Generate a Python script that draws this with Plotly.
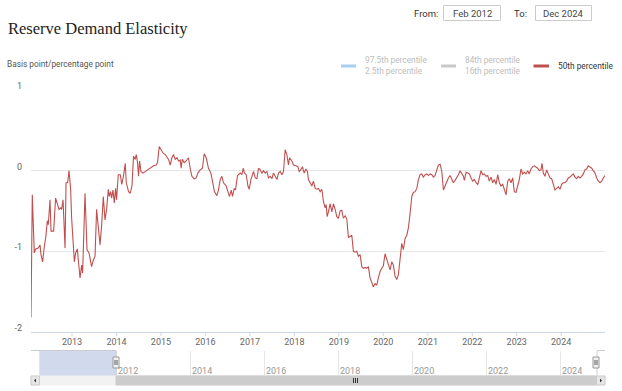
import calendar
from datetime import datetime, timedelta
import plotly.graph_objects as go

# ---------------- data ----------------
series_name = "50th percentile"
years = [
    2012.079, 2012.108, 2012.153, 2012.182, 2012.243, 2012.281, 2012.303, 2012.339, 2012.378, 2012.416,
    2012.445, 2012.467, 2012.506, 2012.528, 2012.587, 2012.631, 2012.676, 2012.708, 2012.744, 2012.766,
    2012.798, 2012.843, 2012.865, 2012.901, 2012.933, 2012.969, 2012.991, 2013.029, 2013.052, 2013.081,
    2013.119, 2013.142, 2013.180, 2013.216, 2013.238, 2013.292, 2013.337, 2013.382, 2013.440, 2013.479,
    2013.517, 2013.553, 2013.591, 2013.629, 2013.665, 2013.703, 2013.742, 2013.778, 2013.816, 2013.838,
    2013.867, 2013.890, 2013.921, 2013.951, 2013.980, 2014.002, 2014.040, 2014.085, 2014.119, 2014.153,
    2014.198, 2014.220, 2014.272, 2014.310, 2014.348, 2014.384, 2014.422, 2014.445, 2014.474, 2014.497,
    2014.519, 2014.551, 2014.596, 2014.647, 2014.699, 2014.744, 2014.798, 2014.834, 2014.894, 2014.924,
    2014.962, 2015.000, 2015.045, 2015.097, 2015.135, 2015.171, 2015.209, 2015.247, 2015.283, 2015.321,
    2015.360, 2015.396, 2015.434, 2015.456, 2015.479, 2015.524, 2015.569, 2015.620, 2015.658, 2015.697,
    2015.748, 2015.793, 2015.831, 2015.883, 2015.935, 2015.973, 2016.018, 2016.070, 2016.124, 2016.169,
    2016.204, 2016.258, 2016.294, 2016.333, 2016.371, 2016.407, 2016.467, 2016.506, 2016.542, 2016.580,
    2016.609, 2016.647, 2016.676, 2016.721, 2016.744, 2016.782, 2016.820, 2016.849, 2016.879, 2016.917,
    2016.955, 2016.984, 2017.022, 2017.058, 2017.081, 2017.119, 2017.157, 2017.193, 2017.231, 2017.270,
    2017.306, 2017.344, 2017.382, 2017.418, 2017.456, 2017.494, 2017.530, 2017.569, 2017.607, 2017.643,
    2017.681, 2017.719, 2017.755, 2017.793, 2017.831, 2017.867, 2017.890, 2017.944, 2017.980, 2018.034,
    2018.079, 2018.108, 2018.146, 2018.182, 2018.220, 2018.258, 2018.294, 2018.317, 2018.355, 2018.393,
    2018.429, 2018.467, 2018.506, 2018.542, 2018.580, 2018.618, 2018.654, 2018.692, 2018.715, 2018.737,
    2018.766, 2018.805, 2018.843, 2018.879, 2018.917, 2018.955, 2018.991, 2019.029, 2019.067, 2019.103,
    2019.142, 2019.180, 2019.216, 2019.254, 2019.292, 2019.328, 2019.366, 2019.404, 2019.440, 2019.479,
    2019.517, 2019.553, 2019.591, 2019.629, 2019.665, 2019.703, 2019.742, 2019.778, 2019.816, 2019.854,
    2019.890, 2019.928, 2019.966, 2020.002, 2020.040, 2020.079, 2020.115, 2020.153, 2020.191, 2020.227,
    2020.265, 2020.303, 2020.339, 2020.378, 2020.416, 2020.452, 2020.490, 2020.528, 2020.564, 2020.602,
    2020.640, 2020.676, 2020.715, 2020.753, 2020.789, 2020.827, 2020.865, 2020.901, 2020.939, 2020.978,
    2021.013, 2021.052, 2021.090, 2021.126, 2021.164, 2021.202, 2021.238, 2021.276, 2021.315, 2021.351,
    2021.389, 2021.427, 2021.463, 2021.501, 2021.539, 2021.575, 2021.613, 2021.652, 2021.688, 2021.726,
    2021.764, 2021.800, 2021.822, 2021.861, 2021.899, 2021.935, 2021.973, 2022.011, 2022.047, 2022.085,
    2022.124, 2022.160, 2022.198, 2022.236, 2022.272, 2022.310, 2022.348, 2022.384, 2022.422, 2022.461,
    2022.497, 2022.535, 2022.573, 2022.609, 2022.647, 2022.685, 2022.721, 2022.760, 2022.798, 2022.834,
    2022.872, 2022.910, 2022.946, 2022.984, 2023.022, 2023.058, 2023.097, 2023.135, 2023.171, 2023.209,
    2023.247, 2023.283, 2023.321, 2023.360, 2023.396, 2023.434, 2023.472, 2023.508, 2023.546, 2023.569,
    2023.598, 2023.636, 2023.674, 2023.710, 2023.748, 2023.787, 2023.822, 2023.861, 2023.899, 2023.935,
    2023.973, 2024.011, 2024.047, 2024.085, 2024.124, 2024.160, 2024.198, 2024.236, 2024.272, 2024.310,
    2024.348, 2024.384, 2024.422, 2024.461, 2024.497, 2024.535, 2024.573, 2024.609, 2024.647, 2024.685,
    2024.721, 2024.760, 2024.798, 2024.834, 2024.872, 2024.910, 2024.946, 2024.984,
]
values = [
    -1.82, -0.30, -1.02, -0.97, -0.96, -0.92, -1.04, -1.13, -0.94, -0.80,
    -0.62, -0.67, -0.36, -0.75, -0.75, -0.34, -0.42, -0.48, -0.46, -0.48,
    -0.36, -0.96, -0.15, -0.15, 0.00, -0.24, -0.59, -0.86, -1.13, -1.02,
    -0.97, -1.11, -1.33, -1.17, -1.27, -0.28, -0.98, -1.02, -1.19, -1.11,
    -1.06, -0.48, -0.69, -0.92, -0.69, -0.32, -0.61, -0.48, -0.23, -0.32,
    -0.26, -0.34, -0.24, -0.40, -0.22, -0.36, -0.05, -0.05, -0.17, -0.08,
    0.09, -0.15, -0.26, -0.28, -0.19, 0.18, 0.14, 0.20, 0.10, -0.07,
    0.12, -0.01, -0.03, -0.01, 0.01, 0.03, 0.05, 0.06, 0.07, 0.10,
    0.30, 0.26, 0.22, 0.20, 0.16, 0.14, 0.07, 0.16, 0.20, 0.14,
    0.16, 0.12, 0.13, 0.03, 0.14, 0.10, 0.12, 0.16, 0.03, -0.07,
    -0.10, -0.09, -0.03, 0.01, 0.03, 0.21, 0.16, 0.03, -0.03, -0.15,
    -0.26, -0.31, -0.24, -0.11, -0.07, -0.15, -0.19, -0.26, -0.32, -0.24,
    -0.32, -0.22, -0.24, -0.06, -0.05, -0.03, -0.05, 0.03, -0.03, -0.05,
    -0.19, -0.23, -0.11, -0.03, -0.01, -0.09, -0.10, 0.03, 0.01, -0.03,
    0.00, -0.03, -0.01, -0.09, -0.07, -0.10, -0.03, -0.07, -0.11, -0.03,
    -0.01, -0.05, -0.01, 0.26, 0.20, 0.07, 0.16, 0.12, 0.07, 0.06,
    0.05, -0.01, 0.01, 0.05, -0.03, 0.02, -0.01, -0.11, -0.15, -0.19,
    -0.13, -0.22, -0.23, -0.22, -0.26, -0.23, -0.38, -0.46, -0.42, -0.57,
    -0.51, -0.41, -0.51, -0.41, -0.48, -0.57, -0.59, -0.50, -0.49, -0.59,
    -0.56, -0.60, -0.83, -0.81, -0.80, -1.00, -1.01, -1.00, -1.06, -1.04,
    -1.19, -1.21, -1.20, -1.21, -1.19, -1.33, -1.38, -1.44, -1.40, -1.42,
    -1.33, -1.25, -1.21, -1.18, -1.03, -1.11, -1.17, -1.23, -1.13, -1.17,
    -1.31, -1.35, -1.29, -1.11, -0.90, -0.98, -0.84, -0.80, -0.71, -0.53,
    -0.32, -0.27, -0.26, -0.22, -0.11, -0.05, -0.04, -0.08, -0.05, -0.04,
    -0.06, -0.04, -0.05, -0.08, -0.06, 0.01, 0.07, 0.08, -0.01, -0.24,
    -0.19, -0.13, -0.09, -0.06, -0.10, -0.15, -0.12, -0.09, -0.05, 0.00,
    -0.04, -0.07, -0.12, -0.02, -0.03, -0.04, -0.09, -0.13, -0.11, -0.15,
    -0.17, -0.09, 0.00, -0.05, -0.04, -0.07, -0.06, -0.13, -0.08, -0.15,
    -0.11, -0.17, -0.05, -0.15, -0.19, -0.17, -0.23, -0.30, -0.13, -0.10,
    -0.15, -0.09, -0.26, -0.27, -0.19, -0.11, 0.02, -0.04, -0.02, -0.04,
    0.00, -0.04, 0.02, 0.05, 0.06, 0.05, 0.03, 0.00, 0.01, 0.09,
    -0.03, -0.07, 0.01, -0.04, -0.09, -0.10, -0.17, -0.24, -0.22, -0.20,
    -0.23, -0.17, -0.15, -0.15, -0.13, -0.09, -0.08, -0.06, -0.04, -0.08,
    -0.10, -0.07, -0.09, -0.07, -0.04, 0.01, 0.02, 0.06, 0.05, 0.03,
    0.00, -0.03, -0.09, -0.13, -0.15, -0.13, -0.09, -0.06,
]
y_ticks = [-2, -1, 0, 1]
x_tick_years = list(range(2013, 2025))
nav_tick_years = [2012, 2014, 2016, 2018, 2020, 2022, 2024]
range_from_label = "Feb 2012"
range_to_label = "Dec 2024"
legend_items = ["97.5th percentile<br>2.5th percentile", "84th percentile<br>16th percentile", "50th percentile"]
legend_colors = ["#a9cfee", "#c9c9c9", "#c0504f"]


def dec_to_date(y):
    yr = int(y)
    frac = y - yr
    ndays = 366 if calendar.isleap(yr) else 365
    return datetime(yr, 1, 1) + timedelta(days=frac * ndays)


dates = [dec_to_date(y) for y in years]

# ---------------- layout geometry (pixels) ----------------
WIDTH, HEIGHT = 622, 391
L, R, T, B = 31, 605, 90, 386          # paper box in pixels
PW, PH = R - L, B - T


def px(x):
    return (x - L) / PW


def py(y):
    return (B - y) / PH


MAIN_BOTTOM = 332
NAV_TOP, NAV_BOTTOM = 350.5, 376
SCR_TOP, SCR_BOTTOM = 376, 385

fig = go.Figure()
fig.add_trace(go.Scatter(
    x=dates, y=values, mode="lines", name=series_name,
    line=dict(color="#c0504f", width=1.1), hoverinfo="skip", showlegend=False,
))
# invisible trace to establish navigator axis
fig.add_trace(go.Scatter(x=[dates[0]], y=[0.5], xaxis="x2", yaxis="y2", mode="markers",
                         marker=dict(opacity=0), hoverinfo="skip", showlegend=False))

shapes = []
annotations = []

# Title and subtitle
annotations.append(dict(text="Reserve Demand Elasticity", x=px(6), y=py(28.5), xref="paper", yref="paper",
                        xanchor="left", yanchor="middle", showarrow=False,
                        font=dict(family="Liberation Serif", size=16.5, color="#222222")))
annotations.append(dict(text="Basis point/percentage point", x=px(5), y=py(64.5), xref="paper", yref="paper",
                        xanchor="left", yanchor="middle", showarrow=False,
                        font=dict(family="Roboto", size=8.3, color="#555555")))

# Range selector (From / To boxes)
annotations.append(dict(text="From:", x=px(440), y=py(13), xref="paper", yref="paper", xanchor="right",
                        yanchor="middle", showarrow=False, font=dict(family="Roboto", size=9.5, color="#333333")))
annotations.append(dict(text="To:", x=px(529), y=py(13), xref="paper", yref="paper", xanchor="right",
                        yanchor="middle", showarrow=False, font=dict(family="Roboto", size=9.5, color="#333333")))
for x0, x1, label in [(443.5, 500.5, range_from_label), (535.5, 591.5, range_to_label)]:
    shapes.append(dict(type="rect", xref="paper", yref="paper", x0=px(x0), x1=px(x1), y0=py(20.5), y1=py(5.5),
                       line=dict(color="#cccccc", width=1), fillcolor="#ffffff", layer="below"))
    annotations.append(dict(text=label, x=px((x0 + x1) / 2), y=py(13), xref="paper", yref="paper",
                            xanchor="center", yanchor="middle", showarrow=False,
                            font=dict(family="Roboto", size=9.5, color="#444444")))

# Legend
leg_sym = [(341, 356), (441, 456), (533.5, 549)]
leg_txt_x = [363, 462.5, 556]
leg_txt_col = ["#bdbdbd", "#bdbdbd", "#333333"]
for (x0, x1), tx, txt, col, tcol in zip(leg_sym, leg_txt_x, legend_items, legend_colors, leg_txt_col):
    shapes.append(dict(type="line", xref="paper", yref="paper", x0=px(x0), x1=px(x1), y0=py(66), y1=py(66),
                       line=dict(color=col, width=3)))
    annotations.append(dict(text=txt, x=px(tx), y=py(65.5), xref="paper", yref="paper", xanchor="left",
                            yanchor="middle", align="left", showarrow=False,
                            font=dict(family="Roboto", size=8.3, color=tcol)))

# Main x-axis tick marks (short, below the axis line)
for yr in x_tick_years:
    shapes.append(dict(type="line", xref="x", yref="paper", x0=datetime(yr, 1, 1), x1=datetime(yr, 1, 1),
                       y0=py(MAIN_BOTTOM), y1=py(MAIN_BOTTOM + 4), line=dict(color="#ccd6eb", width=1)))

# Navigator labels (on the navigator date axis)
for yr in nav_tick_years:
    annotations.append(dict(text=str(yr), x=datetime(yr, 1, 1), xref="x2", y=py(370.5), yref="paper",
                            xanchor="left", yanchor="middle", xshift=0, showarrow=False,
                            font=dict(family="Roboto", size=9, color="#999999")))

# Navigator mask / outline / handles
shapes.append(dict(type="rect", xref="paper", yref="paper", x0=px(39.3), x1=px(116), y0=py(NAV_BOTTOM),
                   y1=py(NAV_TOP), fillcolor="rgba(102,133,194,0.3)", line=dict(width=0), layer="below"))
path = "M {a},{t} L {b},{t} L {b},{bt} L {c},{bt} L {c},{t} L {d},{t}".format(
    a=px(31), b=px(116), c=px(597), d=px(605), t=py(NAV_TOP), bt=py(NAV_BOTTOM))
shapes.append(dict(type="path", xref="paper", yref="paper", path=path, line=dict(color="#cccccc", width=1)))

# Scrollbar
shapes.append(dict(type="rect", xref="paper", yref="paper", x0=px(31), x1=px(605), y0=py(SCR_BOTTOM),
                   y1=py(SCR_TOP), fillcolor="#f2f2f2", line=dict(color="#f2f2f2", width=1)))
shapes.append(dict(type="rect", xref="paper", yref="paper", x0=px(116), x1=px(595.5), y0=py(SCR_BOTTOM),
                   y1=py(SCR_TOP), fillcolor="#cccccc", line=dict(color="#cccccc", width=1)))
for bx0, bx1 in [(31, 39.5), (596.5, 605)]:
    shapes.append(dict(type="rect", xref="paper", yref="paper", x0=px(bx0), x1=px(bx1), y0=py(SCR_BOTTOM),
                       y1=py(SCR_TOP), fillcolor="#e6e6e6", line=dict(color="#cccccc", width=1)))
# arrows
shapes.append(dict(type="path", xref="paper", yref="paper",
                   path="M {x1},{y0} L {x0},{ym} L {x1},{y1} Z".format(x0=px(34), x1=px(36), y0=py(378.5),
                                                                      y1=py(382.5), ym=py(380.5)),
                   fillcolor="#333333", line=dict(width=0)))
shapes.append(dict(type="path", xref="paper", yref="paper",
                   path="M {x0},{y0} L {x1},{ym} L {x0},{y1} Z".format(x0=px(600), x1=px(602), y0=py(378.5),
                                                                      y1=py(382.5), ym=py(380.5)),
                   fillcolor="#333333", line=dict(width=0)))
# grip
for gx in (353.5, 355.5, 357.5):
    shapes.append(dict(type="line", xref="paper", yref="paper", x0=px(gx), x1=px(gx), y0=py(378), y1=py(383),
                       line=dict(color="#333333", width=1)))
# handles
for hx in (116, 596):
    shapes.append(dict(type="rect", xref="paper", yref="paper", x0=px(hx - 3), x1=px(hx + 3), y0=py(368),
                       y1=py(357), fillcolor="#f2f2f2", line=dict(color="#999999", width=1)))
    for gx in (hx - 1, hx + 1):
        shapes.append(dict(type="line", xref="paper", yref="paper", x0=px(gx), x1=px(gx), y0=py(365),
                           y1=py(360), line=dict(color="#333333", width=0.8)))

main_dom = [py(MAIN_BOTTOM), 1]
nav_dom = [py(NAV_BOTTOM), py(NAV_TOP)]

fig.update_layout(
    template="none",
    width=WIDTH, height=HEIGHT,
    margin=dict(l=L, r=WIDTH - R, t=T, b=HEIGHT - B, pad=0, autoexpand=False),
    paper_bgcolor="#ffffff", plot_bgcolor="#ffffff",
    font=dict(family="Roboto", color="#666666"),
    showlegend=False, hovermode=False,
    xaxis=dict(
        type="date", range=[dates[0], dates[-1]], domain=[0, 1], automargin=False,
        tickvals=[datetime(y, 1, 1) for y in x_tick_years], ticktext=[str(y) for y in x_tick_years],
        showgrid=False, zeroline=False, showline=True, linecolor="#ccd6eb", linewidth=1,
        ticks="", tickfont=dict(size=9, color="#666666"), ticklabelstandoff=1,
        anchor="y",
    ),
    yaxis=dict(
        domain=main_dom, range=[-2, 1], tickvals=y_ticks, ticktext=[str(v) for v in y_ticks],
        showgrid=True, gridcolor="#e6e6e6", gridwidth=1, zeroline=False, showline=False, automargin=False,
        ticks="", tickfont=dict(size=9, color="#666666"), ticklabelshift=-4, ticklabelstandoff=8,
        anchor="x",
    ),
    xaxis2=dict(
        type="date", range=["2009-09-14", "2025-03-20"], domain=[0, 1], anchor="y2", automargin=False,
        tickvals=[datetime(y, 1, 1) for y in nav_tick_years], showticklabels=False,
        showgrid=True, gridcolor="#e6e6e6", zeroline=False, showline=False, ticks="",
    ),
    yaxis2=dict(domain=nav_dom, range=[0, 1], visible=False, anchor="x2", automargin=False),
    shapes=shapes, annotations=annotations,
)

fig.write_html("out.html", config={"displayModeBar": False, "staticPlot": True},
               post_script="document.body.style.margin='0px';")
